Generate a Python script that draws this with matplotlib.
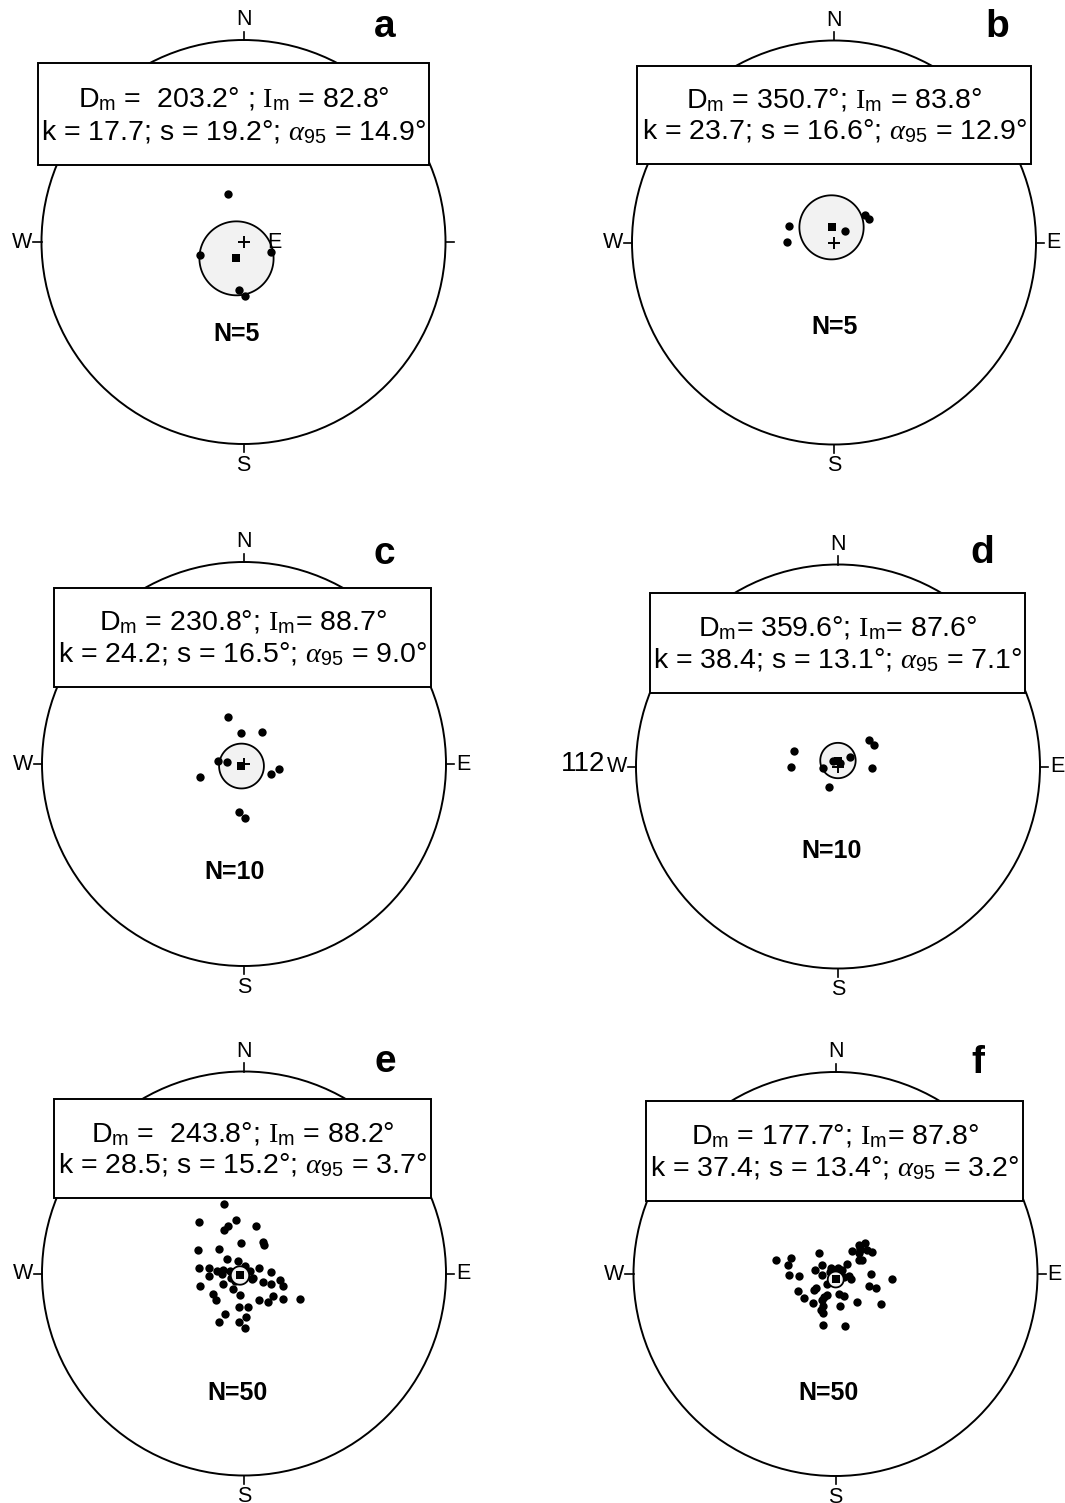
import numpy as np
import matplotlib
matplotlib.use("Agg")
import matplotlib.pyplot as plt
from matplotlib.patches import Rectangle, Circle

plt.rcParams['font.family'] = ['Liberation Sans', 'DejaVu Sans']
plt.rcParams['mathtext.fontset'] = 'custom'
plt.rcParams['mathtext.rm'] = 'Liberation Serif'
plt.rcParams['mathtext.it'] = 'Liberation Serif:italic'
plt.rcParams['mathtext.sf'] = 'Liberation Sans'

# ---- data: declination / inclination of each site direction (deg) ----
dec_a = [341.8, 252.8, 110.1, 185.1, 178.2]
inc_a = [69.8, 71.8, 78.3, 70.4, 68.1]
dec_b = [290.2, 271.0, 44.0, 48.9, 56.2]
inc_b = [70.8, 70.9, 83.7, 73.2, 72.8]
dec_c = [341.0, 353.8, 29.8, 277.3, 276.6, 253.8, 110.5, 98.7, 186.0, 178.9]
inc_c = [69.8, 77.6, 75.2, 79.6, 83.0, 71.6, 78.6, 75.6, 70.6, 68.2]
dec_d = [289.6, 268.8, 266.2, 317.7, 36.3, 52.0, 50.1, 59.0, 91.7, 203.3]
inc_d = [71.2, 71.1, 83.9, 87.0, 88.5, 84.1, 73.5, 73.3, 76.2, 81.1]
dec_e = [343.5, 318.9, 351.6, 341.4, 335.4, 14.5, 354.2, 30.3, 35.1, 296.8,
         314.1, 309.9, 333.4, 277.3, 279.4, 274.9, 280.7, 265.6, 9.3, 66.5,
         69.4, 86.4, 117.8, 114.8, 111.7, 99.6, 107.8, 244.0, 249.1, 215.0,
         253.7, 235.5, 226.2, 189.9, 149.9, 140.2, 128.0, 123.3, 114.5, 188.5,
         174.1, 204.8, 207.3, 178.0, 186.0, 178.7, 125.8, 279.5, 229.3, 270.0]
inc_e = [60.8, 62.4, 68.3, 69.7, 70.8, 70.3, 77.7, 75.2, 75.9, 69.1,
         76.0, 81.0, 84.2, 71.8, 75.9, 79.1, 81.4, 76.0, 87.0, 87.3,
         83.5, 79.2, 85.7, 81.4, 78.4, 75.5, 73.3, 80.8, 84.4, 82.6,
         71.7, 75.1, 74.5, 81.2, 77.6, 75.0, 75.4, 71.4, 65.3, 76.2,
         76.3, 72.2, 67.8, 72.3, 70.2, 68.1, 86.1, 84.4, 85.5, 81.0]
dec_f = [283.5, 289.9, 281.1, 269.1, 266.4, 321.9, 281.6, 302.4, 267.1, 327.6,
         23.2, 48.6, 106.7, 36.3, 39.9, 42.8, 52.5, 58.7, 59.5, 62.8,
         89.5, 94.8, 109.8, 109.2, 246.3, 233.1, 233.6, 232.5, 218.0, 206.8,
         201.3, 201.9, 197.6, 169.7, 158.4, 172.3, 141.8, 124.0, 193.7, 170.1,
         61.1, 46.5, 220.6, 109.9, 202.4, 289.3, 99.5, 48.0, 42.7, 207.0]
inc_f = [65.1, 71.0, 70.6, 71.3, 75.1, 79.1, 81.4, 83.5, 84.5, 87.0,
         87.2, 83.7, 83.4, 78.7, 75.0, 72.8, 73.9, 72.7, 79.1, 77.9,
         75.9, 67.3, 75.7, 72.8, 73.3, 79.1, 80.5, 74.1, 75.2, 78.1,
         80.8, 76.0, 73.6, 81.7, 80.5, 77.0, 75.7, 68.0, 69.0, 68.7,
         86.9, 76.2, 84.9, 86.5, 74.2, 87.6, 84.4, 77.4, 75.6, 79.6]

panels = ['a', 'b', 'c', 'd', 'e', 'f']
decs = [dec_a, dec_b, dec_c, dec_d, dec_e, dec_f]
incs = [inc_a, inc_b, inc_c, inc_d, inc_e, inc_f]
mean_dec = [203.2, 350.7, 230.8, 359.6, 243.8, 177.7]
mean_inc = [82.8, 83.8, 88.7, 87.6, 88.2, 87.8]
kappa = [17.7, 23.7, 24.2, 38.4, 28.5, 37.4]
s_ang = [19.2, 16.6, 16.5, 13.1, 15.2, 13.4]
a95 = [14.9, 12.9, 9.0, 7.1, 3.7, 3.2]
# separators as typeset in each box
sep_d = [' =  ', ' = ', ' = ', '= ', ' =  ', ' = ']
sep_i = [' ; ', '; ', '; ', '; ', '; ', '; ']
sep_ii = [' = ', ' = ', '= ', '= ', ' = ', '= ']

# ---- layout (pixels / net radius units) ----
W, H = 1065, 1503
R = 202.0
L = 1.3
centers = [(243.5, 242), (834, 242.5), (244, 764), (838, 766.5), (244, 1273.5), (835.5, 1274)]
boxes = [(-1.016, 0.380, 0.919, 0.885), (-0.973, 0.389, 0.975, 0.875),
         (-0.941, 0.383, 0.926, 0.873), (-0.930, 0.363, 0.927, 0.858),
         (-0.939, 0.373, 0.927, 0.863), (-0.937, 0.360, 0.930, 0.855)]
letter_xy = [(0.70, 1.013), (0.81, 1.017), (0.693, 0.99), (0.714, 1.006), (0.699, 0.997), (0.706, 0.997)]
count_xy = [(-0.034, -0.457), (0.005, -0.42), (-0.045, -0.537), (-0.031, -0.42), (-0.03, -0.594), (-0.037, -0.59)]
circ_z = [2, 2, 2, 2, 4, 4]


def eq_area(dec, inc):
    dec = np.radians(np.asarray(dec, float))
    inc = np.asarray(inc, float)
    r = np.sqrt(2) * np.sin(np.radians(90 - inc) / 2)
    return r * np.sin(dec), r * np.cos(dec)


def cone(dm, im, a):
    d, i, a = np.radians(dm), np.radians(im), np.radians(a)
    m = np.array([np.cos(i) * np.cos(d), np.cos(i) * np.sin(d), np.sin(i)])
    u = np.cross(m, [0, 0, 1.0])
    if np.linalg.norm(u) < 1e-9:
        u = np.array([1.0, 0, 0])
    u /= np.linalg.norm(u)
    w = np.cross(m, u)
    phi = np.linspace(0, 2 * np.pi, 200)
    v = np.cos(a) * m[:, None] + np.sin(a) * (np.cos(phi) * u[:, None] + np.sin(phi) * w[:, None])
    inc = np.degrees(np.arcsin(np.clip(v[2], -1, 1)))
    dec = np.degrees(np.arctan2(v[1], v[0]))
    return eq_area(dec, inc)


fig = plt.figure(figsize=(W / 100, H / 100), dpi=100)

for i, p in enumerate(panels):
    cx, cy = centers[i]
    ax = fig.add_axes([(cx - L * R) / W, (H - cy - L * R) / H, 2 * L * R / W, 2 * L * R / H])
    ax.set_xlim(-L, L)
    ax.set_ylim(-L, L)
    ax.axis('off')

    ax.add_patch(Circle((0, 0), 1, fill=False, ec='black', lw=1.4, zorder=1))
    for tx, ty in [(0, 1), (0, -1), (1, 0), (-1, 0)]:
        ax.plot([tx, tx * 1.04], [ty, ty * 1.04], color='black', lw=1.2, zorder=1)
    ax.text(0, 1.10, 'N', ha='center', va='center', fontsize=15.5, clip_on=False)
    ax.text(0, -1.105, 'S', ha='center', va='center', fontsize=15.5, clip_on=False)
    ax.text(-1.045, 0, 'W', ha='right', va='center', fontsize=15.5, clip_on=False)
    if p == 'a':
        ax.text(0.12, 0, 'E', ha='left', va='center', fontsize=15.5, clip_on=False)
    else:
        ax.text(1.05, 0, 'E', ha='left', va='center', fontsize=15.5, clip_on=False)
    if p == 'd':
        ax.text(-1.15, 0.01, '112', ha='right', va='center', fontsize=20, clip_on=False)

    x, y = eq_area(decs[i], incs[i])
    ax.plot(x, y, 'o', color='black', ms=6.0, mew=0, zorder=3)

    cxs, cys = cone(mean_dec[i], mean_inc[i], a95[i])
    ax.fill(cxs, cys, facecolor='#f2f2f2', edgecolor='black', lw=1.3, zorder=circ_z[i])
    ax.plot([0], [0], '+', color='black', ms=8, mew=1.4, zorder=3.5)
    mx, my = eq_area([mean_dec[i]], [mean_inc[i]])
    ax.plot(mx, my, 's', color='black', ms=5.5, mew=0, zorder=5)

    x0, y0, x1, y1 = boxes[i]
    ax.add_patch(Rectangle((x0, y0), x1 - x0, y1 - y0, facecolor='white',
                           edgecolor='black', lw=1.4, zorder=6))
    h = y1 - y0
    xm = (x0 + x1) / 2
    line1 = (r'D$_\mathdefault{m}$' + sep_d[i] + '%.1f°' % mean_dec[i] + sep_i[i]
             + r'$\mathrm{I}_\mathdefault{m}$' + sep_ii[i] + '%.1f°' % mean_inc[i])
    line2 = r'k = %.1f; s = %.1f°; $\alpha_\mathdefault{95}$ = %.1f°' % (kappa[i], s_ang[i], a95[i])
    ax.text(xm, y1 - 0.43 * h, line1, ha='center', va='baseline', fontsize=20.5, zorder=7)
    ax.text(xm, y1 - 0.75 * h, line2, ha='center', va='baseline', fontsize=20.5, zorder=7)

    lx, ly = letter_xy[i]
    ax.text(lx, ly, p, ha='center', va='baseline', fontsize=28, fontweight='bold', clip_on=False)
    nx, ny = count_xy[i]
    ax.text(nx, ny, 'N=%d' % len(decs[i]), ha='center', va='center', fontsize=18, fontweight='bold')

fig.savefig('out.png', dpi=100, facecolor='white')
